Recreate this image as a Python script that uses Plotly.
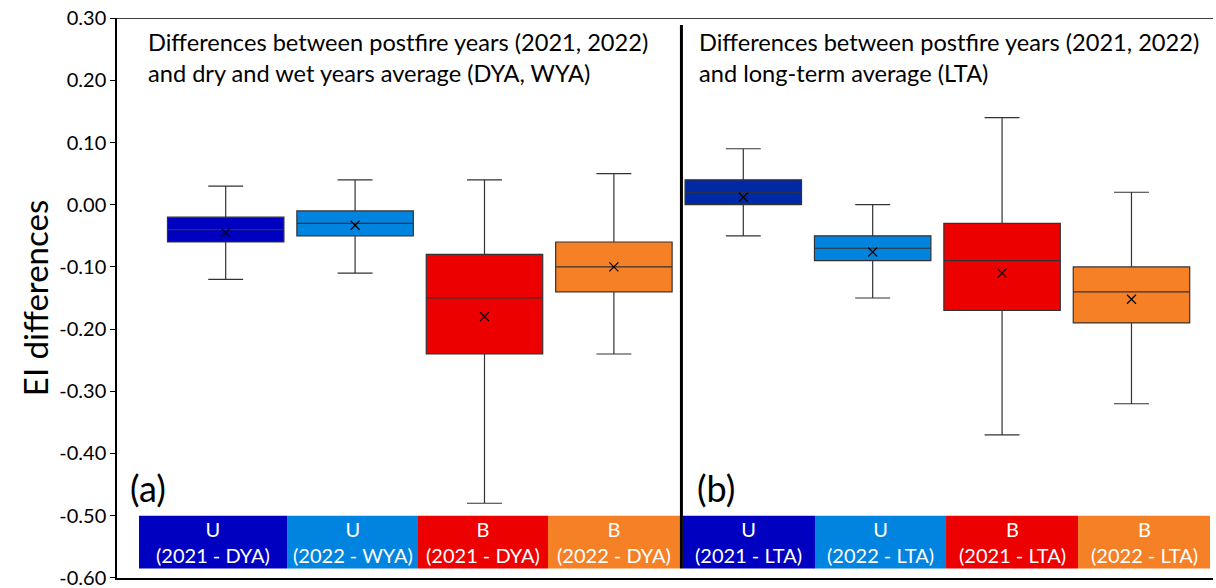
import plotly.graph_objects as go

# ---- data ----
groups = ["U", "U", "B", "B", "U", "U", "B", "B"]
periods = ["(2021 - DYA)", "(2022 - WYA)", "(2021 - DYA)", "(2022 - DYA)",
           "(2021 - LTA)", "(2022 - LTA)", "(2021 - LTA)", "(2022 - LTA)"]
upper = [0.03, 0.04, 0.04, 0.05, 0.09, 0.00, 0.14, 0.02]
q3 = [-0.02, -0.01, -0.08, -0.06, 0.04, -0.05, -0.03, -0.10]
median = [-0.04, -0.03, -0.15, -0.10, 0.02, -0.07, -0.09, -0.14]
q1 = [-0.06, -0.05, -0.24, -0.14, 0.00, -0.09, -0.17, -0.19]
lower = [-0.12, -0.11, -0.48, -0.24, -0.05, -0.15, -0.37, -0.32]
mean = [-0.045, -0.033, -0.18, -0.10, 0.012, -0.076, -0.11, -0.152]
box_colors = ["#0000C0", "#0084E0", "#EC0000", "#F58025",
              "#0029A6", "#0084E0", "#EC0000", "#F58025"]
label_colors = ["#0000C0", "#0084E0", "#EC0000", "#F58025",
                "#0000C0", "#0084E0", "#EC0000", "#F58025"]
tick_vals = [0.3, 0.2, 0.1, 0.0, -0.1, -0.2, -0.3, -0.4, -0.5, -0.6]
tick_text = ["0.30", "0.20", "0.10", "0.00", "-0.10", "-0.20", "-0.30", "-0.40", "-0.50", "-0.60"]
panel_titles = ["Differences between postfire years (2021, 2022)<br>and dry and wet years average (DYA, WYA)",
                "Differences between postfire years (2021, 2022)<br>and long-term average (LTA)"]
panel_tags = ["(a)", "(b)"]
y_title = "EI differences"

# label strip edges (x-axis units), left panel then right panel
label_x0 = [-0.670, 0.474, 1.486, 2.491, 3.534, 4.554, 5.567, 6.587]
label_x1 = [0.474, 1.486, 2.491, 3.511, 4.554, 5.567, 6.587, 7.607]

FONT = "Lato"
fig = go.Figure()
pos = list(range(len(groups)))

for i in pos:
    fig.add_trace(go.Box(
        x=[i], q1=[q1[i]], median=[median[i]], q3=[q3[i]],
        lowerfence=[lower[i]], upperfence=[upper[i]],
        width=0.9, whiskerwidth=0.3,
        fillcolor=box_colors[i],
        line=dict(color="#333333", width=1.2),
        boxpoints=False, showlegend=False, hoverinfo="skip",
    ))

fig.add_trace(go.Scatter(
    x=pos, y=mean, mode="markers",
    marker=dict(symbol="x-thin", size=9, line=dict(color="black", width=1.2)),
    showlegend=False, hoverinfo="skip",
))

shapes = []
annotations = []
lab_top, lab_bot = -0.5, -0.585
for i in pos:
    x0, x1 = label_x0[i], label_x1[i]
    shapes.append(dict(type="rect", xref="x", yref="y", x0=x0, x1=x1,
                       y0=lab_bot, y1=lab_top, fillcolor=label_colors[i],
                       line=dict(width=0), layer="above"))
    annotations.append(dict(xref="x", yref="y", x=(x0 + x1) / 2, y=(lab_top + lab_bot) / 2,
                            text=groups[i] + "<br>" + periods[i], showarrow=False,
                            font=dict(family=FONT, size=20, color="white"),
                            xanchor="center", yanchor="middle"))

# divider between panels
shapes.append(dict(type="line", xref="x", yref="y", x0=3.522, x1=3.522,
                   y0=lab_bot, y1=0.289, line=dict(color="black", width=3), layer="above"))
# top frame line
shapes.append(dict(type="line", xref="paper", yref="y", x0=0, x1=1, y0=0.3, y1=0.3,
                   line=dict(color="black", width=1.5)))

annotations.append(dict(xref="paper", yref="paper", x=0.0265, y=0.985, xanchor="left", yanchor="top",
                        align="left", text=panel_titles[0], showarrow=False,
                        font=dict(family=FONT, size=23.6, color="black")))
annotations.append(dict(xref="paper", yref="paper", x=0.529, y=0.985, xanchor="left", yanchor="top",
                        align="left", text=panel_titles[1], showarrow=False,
                        font=dict(family=FONT, size=23.6, color="black")))
annotations.append(dict(xref="paper", yref="paper", x=0.010, y=0.16, xanchor="left", yanchor="middle",
                        text=panel_tags[0], showarrow=False,
                        font=dict(family=FONT, size=36, color="black")))
annotations.append(dict(xref="paper", yref="paper", x=0.527, y=0.16, xanchor="left", yanchor="middle",
                        text=panel_tags[1], showarrow=False,
                        font=dict(family=FONT, size=36, color="black")))

fig.update_layout(
    width=1216, height=588,
    margin=dict(l=117, r=3, t=18, b=10, autoexpand=False),
    paper_bgcolor="white", plot_bgcolor="white",
    shapes=shapes, annotations=annotations,
    font=dict(family=FONT, color="black"),
    xaxis=dict(range=[-0.84, 7.63], showticklabels=False, ticks="", showgrid=False,
               zeroline=False, showline=True, linecolor="black", linewidth=1.5, automargin=False),
    yaxis=dict(range=[-0.6002, 0.3002], tickvals=tick_vals, ticktext=tick_text,
               ticks="outside", ticklen=5, tickcolor="black", showgrid=False, zeroline=False,
               showline=True, linecolor="black", linewidth=1.5, ticklabeloverflow="allow",
               automargin=False,
               tickfont=dict(family=FONT, size=20, color="black"),
               title=dict(text=y_title, font=dict(family=FONT, size=33, color="black"), standoff=1)),
)

fig.write_html("out.html")
